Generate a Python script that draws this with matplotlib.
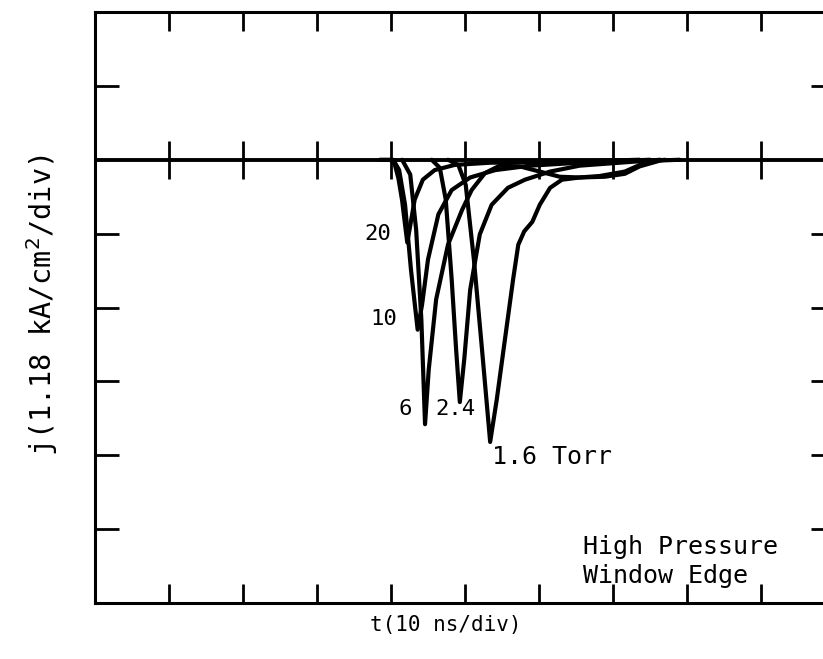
import matplotlib
matplotlib.use("Agg")
import matplotlib.pyplot as plt
import numpy as np

# Data in divisions (x: 10 ns/div, y: 1.18 kA/cm^2/div, negative downward)
x20 = [3.85, 3.99, 4.05, 4.10, 4.15, 4.19, 4.22, 4.26, 4.32, 4.43, 4.59, 4.86, 5.34, 6.28, 7.36]
y20 = [0.0, 0.0, -0.06, -0.25, -0.55, -0.88, -1.12, -0.89, -0.54, -0.27, -0.14, -0.07, -0.04, -0.03, 0.0]

x10 = [4.03, 4.11, 4.19, 4.27, 4.36, 4.42, 4.50, 4.64, 4.82, 5.07, 5.41, 5.88, 6.55, 7.5]
y10 = [0.0, -0.14, -0.61, -1.49, -2.30, -1.96, -1.35, -0.74, -0.41, -0.24, -0.14, -0.08, -0.04, 0.0]

x6 = [4.15, 4.26, 4.34, 4.41, 4.46, 4.51, 4.61, 4.77, 4.96, 5.09, 5.27, 5.47, 5.74, 6.01, 6.28, 6.55, 6.82, 7.16, 7.43, 7.7]
y6 = [0.0, -0.2, -0.95, -2.16, -3.58, -2.84, -1.89, -1.15, -0.68, -0.41, -0.18, -0.08, -0.09, -0.16, -0.23, -0.24, -0.22, -0.16, -0.04, 0.0]

x24 = [4.55, 4.66, 4.74, 4.82, 4.88, 4.93, 4.99, 5.07, 5.20, 5.36, 5.58, 5.81, 6.15, 6.55, 7.09, 7.64]
y24 = [0.0, -0.11, -0.54, -1.62, -2.57, -3.28, -2.70, -1.76, -1.01, -0.61, -0.38, -0.27, -0.16, -0.08, -0.04, 0.0]

x16 = [4.77, 4.91, 5.01, 5.12, 5.23, 5.34, 5.43, 5.54, 5.65, 5.72, 5.80, 5.91, 6.01, 6.15, 6.31, 6.55, 6.89, 7.16, 7.36, 7.64, 7.9]
y16 = [0.0, -0.07, -0.34, -1.35, -2.57, -3.82, -3.24, -2.43, -1.62, -1.15, -0.97, -0.84, -0.61, -0.38, -0.27, -0.24, -0.23, -0.19, -0.09, -0.01, 0.0]

curves = [(x20, y20), (x10, y10), (x6, y6), (x24, y24), (x16, y16)]
xticks = [1, 2, 3, 4, 5, 6, 7, 8, 9]
yticks = [1, -1, -2, -3, -4, -5]

fig = plt.figure(figsize=(8.23, 6.59), dpi=100)
ax = fig.add_axes([95/823, 56/659, 740/823, 591/659])
ax.set_xlim(0, 10)
ax.set_ylim(-6, 2)

for xs, ys in curves:
    ax.plot(xs, ys, color='black', lw=3.0, solid_capstyle='round', solid_joinstyle='round')

ax.axhline(0, color='black', lw=2.8)
ax.plot(xticks, [0]*len(xticks), linestyle='none', marker='|', markersize=27,
        markeredgewidth=2.0, color='black')

for s in ax.spines.values():
    s.set_linewidth(2.2)

ax.set_xticks(xticks)
ax.set_yticks(yticks)
ax.set_xticklabels([])
ax.set_yticklabels([])
ax.tick_params(axis='x', direction='in', length=14, width=2, top=True, bottom=True)
ax.tick_params(axis='y', direction='in', length=17, width=2, left=True, right=True)

mono = 'DejaVu Sans Mono'
fs = 16
fs2 = 18
ax.text(4.0, -1.0, '20', ha='right', va='center', fontsize=fs, family=mono)
ax.text(4.08, -2.16, '10', ha='right', va='center', fontsize=fs, family=mono)
ax.text(4.28, -3.38, '6', ha='right', va='center', fontsize=fs, family=mono)
ax.text(4.6, -3.38, '2.4', ha='left', va='center', fontsize=fs, family=mono)
ax.text(5.36, -4.02, '1.6 Torr', ha='left', va='center', fontsize=fs2, family=mono)
ax.text(6.59, -5.24, 'High Pressure', ha='left', va='center', fontsize=fs2, family=mono)
ax.text(6.59, -5.63, 'Window Edge', ha='left', va='center', fontsize=fs2, family=mono)

fig.text(446/823, 1 - 625/659, 't(10 ns/div)', ha='center', va='center', fontsize=15, family=mono)
fig.text(42/823, 1 - 305/659, 'j(1.18 kA/cm$^2$/div)', ha='center', va='center',
         rotation=90, fontsize=20.5, family=mono)

fig.savefig('out.png', dpi=100)
